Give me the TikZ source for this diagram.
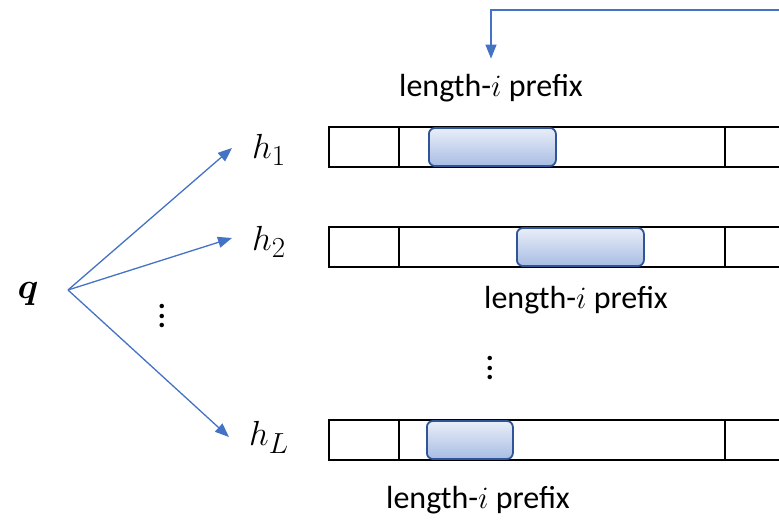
\documentclass[tikz,border=0pt]{standalone}
\usepackage{amsmath, amssymb, graphicx}
\usepackage{fontspec}
\setmainfont{Carlito}
\usepackage{tikz}
\usetikzlibrary{arrows.meta, positioning}
\usepackage{xcolor}
\definecolor{arrowblue}{HTML}{4472C4}
\definecolor{boxblue}{HTML}{2F5597}
\definecolor{topfill}{HTML}{E9EEF8}
\definecolor{botfill}{HTML}{A8BDE3}
\newcommand{\scaledmath}[2]{\scalebox{#1}{\Huge$#2$}}
\newcommand{\tallvdots}{\vbox{\baselineskip=9.5pt\lineskiplimit=-100pt\hbox{\textbf{.}}\hbox{\textbf{.}}\hbox{\textbf{.}}}}

\begin{document}
\begin{tikzpicture}[
    x=1pt, y=-1pt,
    bar/.style={rectangle, draw, line width=2.2pt, minimum width=520pt, minimum height=40pt, anchor=west, inner sep=0pt},
    prefbox/.style={rectangle, draw=boxblue, line width=1.8pt, rounded corners=6pt, top color=topfill, bottom color=botfill, minimum height=38pt, anchor=west, inner sep=0pt},
    lentext/.style={font=\fontsize{32}{36}\selectfont},
    hash/.style={font=\fontsize{30}{34}\selectfont, inner sep=0pt},
    line/.style={draw=arrowblue, line width=1.3pt, -{Triangle[length=14pt, width=11pt]}}
]
    \useasboundingbox (0,0) rectangle (779,520);
    \clip (0,0) rectangle (779,520);

    % hash tables
    \foreach \n/\y in {1/147, 2/247, L/440} {
        \node [bar] (bar\n) at (328,\y) {};
        \draw [line width=1.5pt] (bar\n.north west) ++(71,0) -- ++(0,40);
        \draw [line width=1.5pt] (bar\n.north west) ++(397,0) -- ++(0,40);
    }
    \node [prefbox, minimum width=127pt] (pre1) at (428,147) {};
    \node [prefbox, minimum width=127pt] (pre2) at (516,247) {};
    \node [prefbox, minimum width=86pt] (preL) at (426,440) {};

    \node [lentext] (lab1) at (491,88) {length-\scaledmath{1.25}{i} prefix};
    \node [lentext] (lab2) at (576,300) {length-\scaledmath{1.25}{i} prefix};
    \node [lentext] (labL) at (478,500) {length-\scaledmath{1.25}{i} prefix};

    \node [hash] (h1) at (269,150) {\scaledmath{1.4}{h_1}};
    \node [hash] (h2) at (269,242) {\scaledmath{1.4}{h_2}};
    \node [hash] (hL) at (269,437) {\scaledmath{1.4}{h_L}};
    \node [hash] (q) at (28,294) {\scaledmath{1.45}{\boldsymbol{q}}};

    \node [hash] (vd1) at (162,316) {\tallvdots};
    \node [hash] (vd2) at (490,368) {\tallvdots};

    \coordinate (fan) at (68,290);
    \coordinate (feed) at (790,10);

    \path [line] (fan) -- ([shift={(-20,-2)}]h1.west);
    \path [line] (fan) -- ([shift={(-20,-4)}]h2.west);
    \path [line] (fan) -- ([shift={(-20,0)}]hL.west);
    \path [line] (feed) -| ([yshift=12pt]lab1.north);
\end{tikzpicture}
\end{document}
